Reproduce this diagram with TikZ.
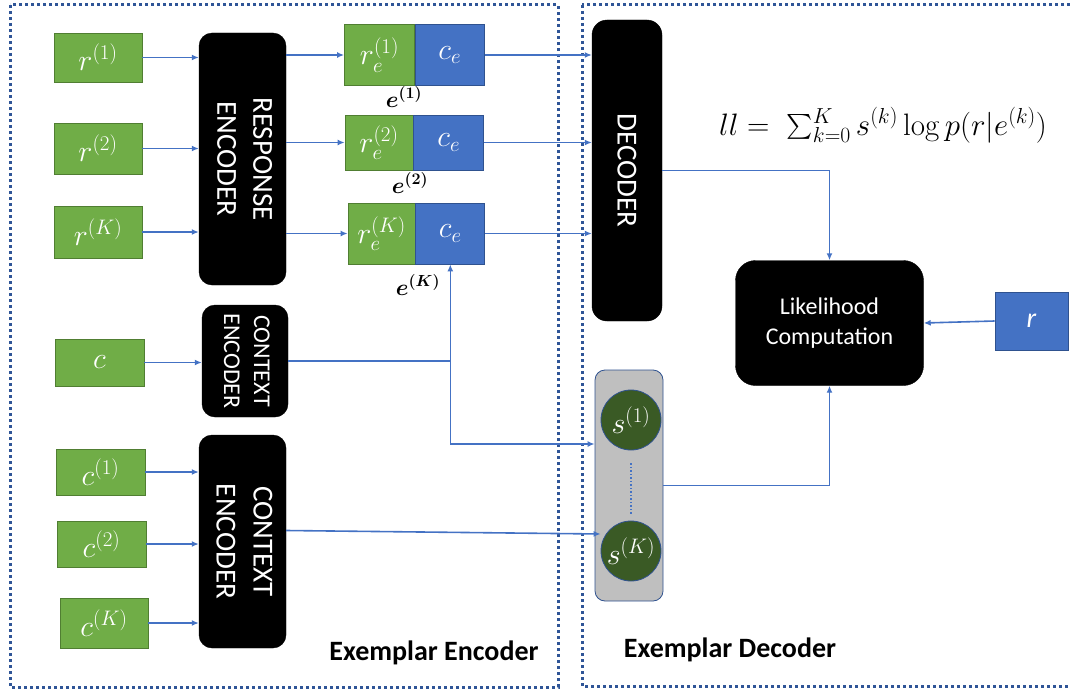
\documentclass[tikz,border=0pt]{standalone}
\usepackage{fix-cm}
\usepackage{amsmath,bm}
\usepackage[no-math]{fontspec}
\setmainfont{Carlito}
\usetikzlibrary{arrows.meta,calc}
\definecolor{cgreen}{HTML}{70AD47}
\definecolor{cgreenb}{HTML}{507E32}
\definecolor{cblue}{HTML}{4472C4}
\definecolor{cblueb}{HTML}{2F528F}
\definecolor{cframe}{HTML}{2F5597}
\definecolor{sgreen}{HTML}{3A5A25}
\definecolor{sgray}{HTML}{BFBFBF}
\tikzset{
 gbox/.style={draw=cgreenb, line width=0.8pt, fill=cgreen, text=white, inner sep=0pt, font=\fontsize{30}{34}\selectfont},
 bbox/.style={draw=cblueb, line width=0.8pt, fill=cblue, text=white, inner sep=0pt, font=\fontsize{30}{34}\selectfont},
 blk/.style={fill=black, draw=black, rounded corners=13pt, text=white, inner sep=0pt, align=center},
 conn/.style={draw=cblue, line width=1.6pt},
 arr/.style={conn, -{Latex[length=7pt,width=6pt]}},
 frame/.style={draw=cframe, line width=3pt, dash pattern=on 3pt off 3pt},
 scirc/.style={circle, fill=sgreen, draw=cblueb, line width=0.8pt, minimum size=60pt, inner sep=0pt, text=white, font=\fontsize{30}{34}\selectfont},
 elab/.style={font=\fontsize{23}{27}\selectfont},
 title/.style={font=\bfseries\fontsize{28}{34}\selectfont, anchor=base},
}
\begin{document}
\begin{tikzpicture}[x=1pt,y=-1pt]
\useasboundingbox (0,0) rectangle (1070,693);
\draw[frame] (10,5) rectangle (558,687);
\draw[frame] (582,5) rectangle (1075,686);

% inputs
\node[gbox, minimum width=88, minimum height=49] (r1) at (98,57.5) {$r^{(1)}$};
\node[gbox, minimum width=88, minimum height=51] (r2) at (98,148.5) {$r^{(2)}$};
\node[gbox, minimum width=88, minimum height=52] (rK) at (98,232) {$r^{(K)}$};
\node[gbox, minimum width=89, minimum height=47] (c) at (99.5,362.5) {$c$};
\node[gbox, minimum width=89, minimum height=46] (c1) at (100.5,472) {$c^{(1)}$};
\node[gbox, minimum width=89, minimum height=46] (c2) at (101.5,544) {$c^{(2)}$};
\node[gbox, minimum width=88, minimum height=50] (cK) at (104,623) {$c^{(K)}$};

% encoders
\node[blk, minimum width=87, minimum height=252] (re) at (242.5,159)
 {\rotatebox{-90}{\fontsize{29}{36}\selectfont\begin{tabular}{@{}c@{}}RESPONSE\\ENCODER\end{tabular}}};
\node[blk, minimum width=86, minimum height=112] (ce1) at (245,361)
 {\rotatebox{-90}{\fontsize{24}{30}\selectfont\begin{tabular}{@{}c@{}}CONTEXT\\ENCODER\end{tabular}}};
\node[blk, minimum width=87, minimum height=213] (ce2) at (242.5,541.5)
 {\rotatebox{-90}{\fontsize{29}{37}\selectfont\begin{tabular}{@{}c@{}}CONTEXT\\ENCODER\end{tabular}}};

% exemplar embeddings
\node[gbox, minimum width=70, minimum height=61] (e1g) at (379.5,55) {$r_e^{(1)}$};
\node[bbox, minimum width=69, minimum height=61, anchor=west] (e1b) at (e1g.east) {$c_e$};
\node[gbox, minimum width=68, minimum height=55] (e2g) at (379,142.5) {$r_e^{(2)}$};
\node[bbox, minimum width=70, minimum height=55, anchor=west] (e2b) at (e2g.east) {$c_e$};
\node[gbox, minimum width=67, minimum height=61] (eKg) at (381.5,233.5) {$r_e^{(K)}$};
\node[bbox, minimum width=69, minimum height=61, anchor=west] (eKb) at (eKg.east) {$c_e$};
\node[elab] (le1) at (404,97) {$\bm{e^{(1)}}$};
\node[elab] (le2) at (410,183) {$\bm{e^{(2)}}$};
\node[elab] (leK) at (418,285) {$\bm{e^{(K)}}$};

% decoder side
\node[blk, rounded corners=15pt, minimum width=70, minimum height=301] (dec) at (627,170.5)
 {\rotatebox{-90}{\fontsize{29}{36}\selectfont DECODER}};
\node[draw=cblueb, fill=sgray, line width=0.8pt, rounded corners=10pt, minimum width=68, minimum height=231] (sb) at (629,485.5) {};
\node[scirc] (s1) at (631,420) {$s^{(1)}$};
\node[scirc] (sK) at (631,551) {$s^{(K)}$};
\draw[cblue, line width=1.5pt, dotted] ([yshift=-13pt]s1.south) -- ([yshift=6pt]sK.north);
\node[blk, rounded corners=20pt, minimum width=188, minimum height=125, font=\fontsize{24}{30}\selectfont] (lik) at (829.5,323) {Likelihood\\Computation};
\node[bbox, minimum width=73, minimum height=58, font=\itshape\fontsize{28}{32}\selectfont] (rb) at (1031.5,321) {r};
\node[font=\fontsize{31}{36}\selectfont, anchor=base] (ll) at (883,135) {$ll = \;\sum_{k=0}^{K} s^{(k)} \log p(r|e^{(k)})$};

\node[title] (t1) at (434,660) {Exemplar Encoder};
\node[title] (t2) at (730,657) {Exemplar Decoder};

% connectors
\draw[arr] (r1.east) -- (r1.east -| re.west);
\draw[arr] (r2.east) -- (r2.east -| re.west);
\draw[arr] (rK.east) -- (rK.east -| re.west);
\draw[arr] (e1g.west -| re.east) -- (e1g.west);
\draw[arr] (e2g.west -| re.east) -- (e2g.west);
\draw[arr] (eKg.west -| re.east) -- (eKg.west);
\draw[arr] (e1b.east) -- (e1b.east -| dec.west);
\draw[arr] (e2b.east) -- (e2b.east -| dec.west);
\draw[arr] (eKb.east) -- (eKb.east -| dec.west);
\draw[arr] (c.east) -- (c.east -| ce1.west);
\draw[arr] (c1.east) -- (c1.east -| ce2.west);
\draw[arr] (c2.east) -- (c2.east -| ce2.west);
\draw[arr] (cK.east) -- (cK.east -| ce2.west);
\coordinate (j) at (eKb.south |- ce1.east);
\draw[conn] (ce1.east) -- (j);
\draw[arr] (j) -- (eKb.south);
\draw[arr] (j) |- ([yshift=-24pt]s1.center -| sb.west);
\draw[arr] ([yshift=11pt]ce2.east) -- ([yshift=17pt]sK.west);
\draw[arr] (dec.east) -| (lik.north);
\draw[arr] (sb.east) -| (lik.south);
\draw[arr] (rb.west) -- (lik.east);
\end{tikzpicture}
\end{document}
